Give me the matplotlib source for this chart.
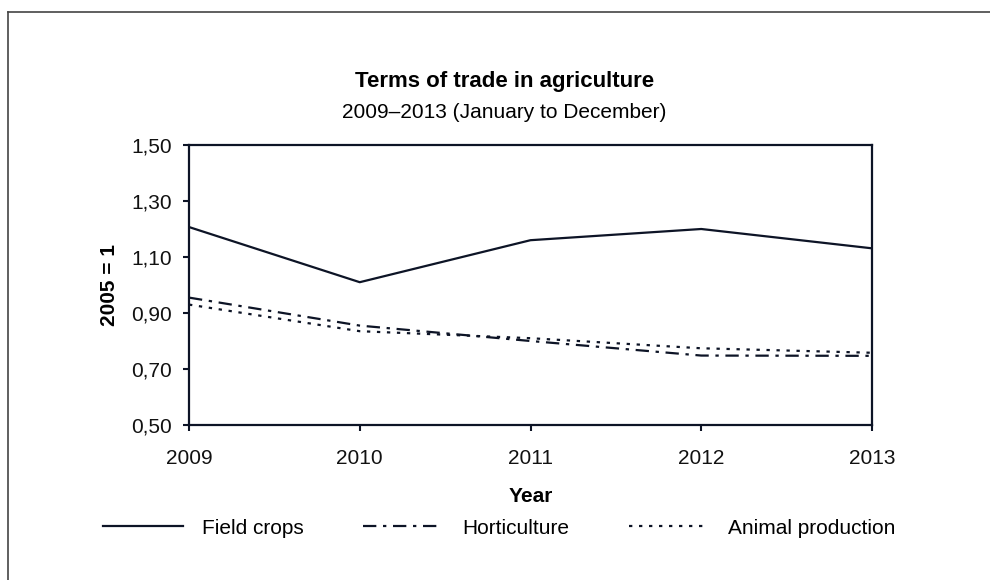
import matplotlib.pyplot as plt
from matplotlib.ticker import FuncFormatter
from matplotlib.lines import Line2D

plt.rcParams['font.family'] = ['Liberation Sans', 'DejaVu Sans']

years = [2009, 2010, 2011, 2012, 2013]
field_crops = [1.207, 1.01, 1.16, 1.20, 1.131]
horticulture = [0.955, 0.855, 0.80, 0.748, 0.747]
animal_production = [0.93, 0.835, 0.81, 0.774, 0.758]
series_names = ['Field crops', 'Horticulture', 'Animal production']

ink = '#0d1426'
fs = 15

fig = plt.figure(figsize=(9.9, 5.8), dpi=100)
ax = fig.add_axes([189 / 990, 1 - 425 / 580, (872 - 189) / 990, (425 - 145) / 580])

ax.plot(years, field_crops, color=ink, lw=1.6, ls='-', label=series_names[0])
ax.plot(years, horticulture, color=ink, lw=1.6, dashes=(6, 3, 1.5, 3), label=series_names[1])
ax.plot(years, animal_production, color=ink, lw=1.6, dashes=(1.5, 3), label=series_names[2])

ax.set_xlim(2009, 2013)
ax.set_ylim(0.5, 1.5)
ax.set_xticks(years)
ax.set_yticks([0.5, 0.7, 0.9, 1.1, 1.3, 1.5])
ax.yaxis.set_major_formatter(FuncFormatter(lambda v, p: f'{v:.2f}'.replace('.', ',')))
ax.tick_params(direction='out', length=4.5, width=1.5, color=ink, labelsize=fs,
               labelcolor='#111111')
ax.tick_params(axis='x', pad=12.5)
ax.tick_params(axis='y', pad=7.5)
for s in ax.spines.values():
    s.set_linewidth(1.6)
    s.set_color(ink)

ax.set_xlabel('Year', fontsize=fs, fontweight='bold', labelpad=14)
ax.set_ylabel('2005 = 1', fontsize=fs, fontweight='bold', labelpad=9)

fig.text(505 / 990, 1 - 82 / 580, 'Terms of trade in agriculture', ha='center', va='center',
         fontsize=16, fontweight='bold')
fig.text(504 / 990, 1 - 113 / 580, '2009\u20132013 (January to December)', ha='center',
         va='center', fontsize=fs)

handles, labels = ax.get_legend_handles_labels()
fig.legend(handles, labels, loc='center', bbox_to_anchor=(499 / 990, 1 - 528 / 580), ncol=3,
           frameon=False, fontsize=fs, handlelength=3.85, columnspacing=2.85,
           handletextpad=0.9)

# frame around the figure (top and left visible)
fig.add_artist(Line2D([8 / 990, 8 / 990], [0, 1 - 12 / 580], color='#444444', lw=1.2,
                      transform=fig.transFigure))
fig.add_artist(Line2D([8 / 990, 1], [1 - 12 / 580, 1 - 12 / 580], color='#444444', lw=1.2,
                      transform=fig.transFigure))

fig.savefig('out.png', dpi=100)
